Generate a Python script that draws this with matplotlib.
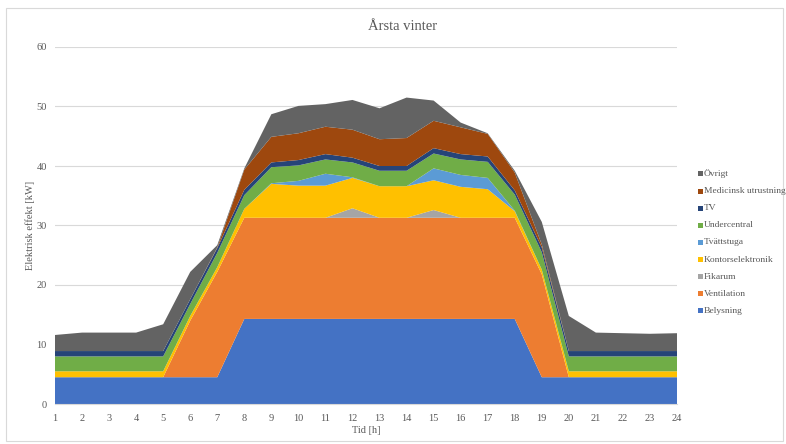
import matplotlib
matplotlib.use("Agg")
import matplotlib.pyplot as plt
from matplotlib.patches import Rectangle

# Hourly electric load per category (kW)
hours = list(range(1, 25))

belysning = [4.5, 4.5, 4.5, 4.5, 4.5, 4.5, 4.5,
             14.3, 14.3, 14.3, 14.3, 14.3, 14.3, 14.3, 14.3, 14.3, 14.3, 14.3,
             4.5, 4.5, 4.5, 4.5, 4.5, 4.5]
ventilation = [0, 0, 0, 0, 0, 9.5, 17.7,
               17.0, 17.0, 17.0, 17.0, 17.0, 17.0, 17.0, 17.0, 17.0, 17.0, 17.0,
               17.3, 0, 0, 0, 0, 0]
fikarum = [0, 0, 0, 0, 0, 0, 0,
           0, 0, 0, 0, 1.6, 0, 0, 1.3, 0, 0, 0,
           0, 0, 0, 0, 0, 0]
kontorselektronik = [1.0, 1.0, 1.0, 1.0, 1.0, 0.8, 0.8,
                     1.5, 5.7, 5.4, 5.4, 5.1, 5.3, 5.3, 5.0, 5.2, 4.8, 1.1,
                     0.8, 1.0, 1.0, 1.0, 1.0, 1.0]
tvattstuga = [0, 0, 0, 0, 0, 0, 0,
              0, 0.1, 0.8, 2.0, 0.1, 0, 0, 2.0, 2.0, 1.9, 0.1,
              0, 0, 0, 0, 0, 0]
undercentral = [2.5, 2.5, 2.5, 2.5, 2.5, 2.0, 2.4,
                2.3, 2.7, 2.6, 2.4, 2.5, 2.6, 2.6, 2.5, 2.6, 2.7, 2.7,
                2.9, 2.5, 2.5, 2.5, 2.5, 2.5]
tv = [0.9, 0.9, 0.9, 0.9, 0.9, 0.8, 0.8,
      0.9, 0.8, 0.9, 0.9, 0.8, 0.8, 0.8, 0.9, 0.9, 0.9, 0.7,
      0.8, 0.9, 0.9, 0.9, 0.9, 0.9]
medicinsk = [0, 0, 0, 0, 0, 0, 0.1,
             3.4, 4.3, 4.5, 4.6, 4.7, 4.5, 4.7, 4.6, 4.5, 3.8, 3.0,
             0.5, 0, 0, 0, 0, 0]
ovrigt = [2.7, 3.1, 3.1, 3.1, 4.5, 4.6, 0.4,
          0.2, 3.8, 4.6, 3.8, 5.0, 5.2, 6.8, 3.4, 0.8, 0.1, 0.3,
          3.8, 5.9, 3.1, 3.0, 2.9, 3.0]

labels = ["Belysning", "Ventilation", "Fikarum", "Kontorselektronik",
          "Tvättstuga", "Undercentral", "TV", "Medicinsk utrustning", "Övrigt"]
series = [belysning, ventilation, fikarum, kontorselektronik,
          tvattstuga, undercentral, tv, medicinsk, ovrigt]
colors = ["#4472C4", "#ED7D31", "#A5A5A5", "#FFC000",
          "#5B9BD5", "#70AD47", "#264478", "#9E480E", "#636363"]

y_ticks = [0, 10, 20, 30, 40, 50, 60]

plt.rcParams["font.family"] = ["Liberation Serif", "DejaVu Serif"]
text_color = "#595959"

W, H = 786, 444
fig = plt.figure(figsize=(W / 100, H / 100), dpi=100)

# Plot area
left, right, bottom, top = 55, 677, 404, 47
ax = fig.add_axes([left / W, 1 - bottom / H, (right - left) / W, (bottom - top) / H])

ax.stackplot(hours, *series, colors=colors, labels=labels, linewidth=0)

ax.set_xlim(1, 24)
ax.set_ylim(0, 60)
ax.set_xticks(hours)
ax.set_yticks(y_ticks)
ax.tick_params(axis="both", length=0, labelsize=7.5, labelcolor=text_color)
ax.tick_params(axis="x", pad=7)
ax.tick_params(axis="y", pad=6)
ax.grid(axis="y", color="#D9D9D9", linewidth=0.8)
ax.set_axisbelow(True)
for s in ["top", "right", "left"]:
    ax.spines[s].set_visible(False)
ax.spines["bottom"].set_color("#D9D9D9")
ax.spines["bottom"].set_linewidth(0.8)

ax.set_xlabel("Tid [h]", fontsize=7.5, color=text_color, labelpad=2)
ax.set_ylabel("Elektrisk effekt [kW]", fontsize=7.5, color=text_color, labelpad=1)

fig.text(403 / W, 1 - 27 / H, "Årsta vinter", ha="center", va="center",
         fontsize=10.5, color=text_color)

# Legend, top entry is the last stacked series
y0, dy = 174, 17.1
for i, (lab, col) in enumerate(zip(labels[::-1], colors[::-1])):
    yc = y0 + i * dy
    fig.patches.append(Rectangle((698 / W, 1 - (yc + 2.5) / H), 5 / W, 5 / H,
                                 transform=fig.transFigure, facecolor=col,
                                 edgecolor="none"))
    fig.text(704 / W, 1 - yc / H, lab, ha="left", va="center",
             fontsize=6.8, color=text_color)

# Chart border
fig.patches.append(Rectangle((6 / W, 1 - 441 / H), (783 - 6) / W, (441 - 8) / H,
                             transform=fig.transFigure, facecolor="none",
                             edgecolor="#D9D9D9", linewidth=0.8))

fig.savefig("out.png", dpi=100)
